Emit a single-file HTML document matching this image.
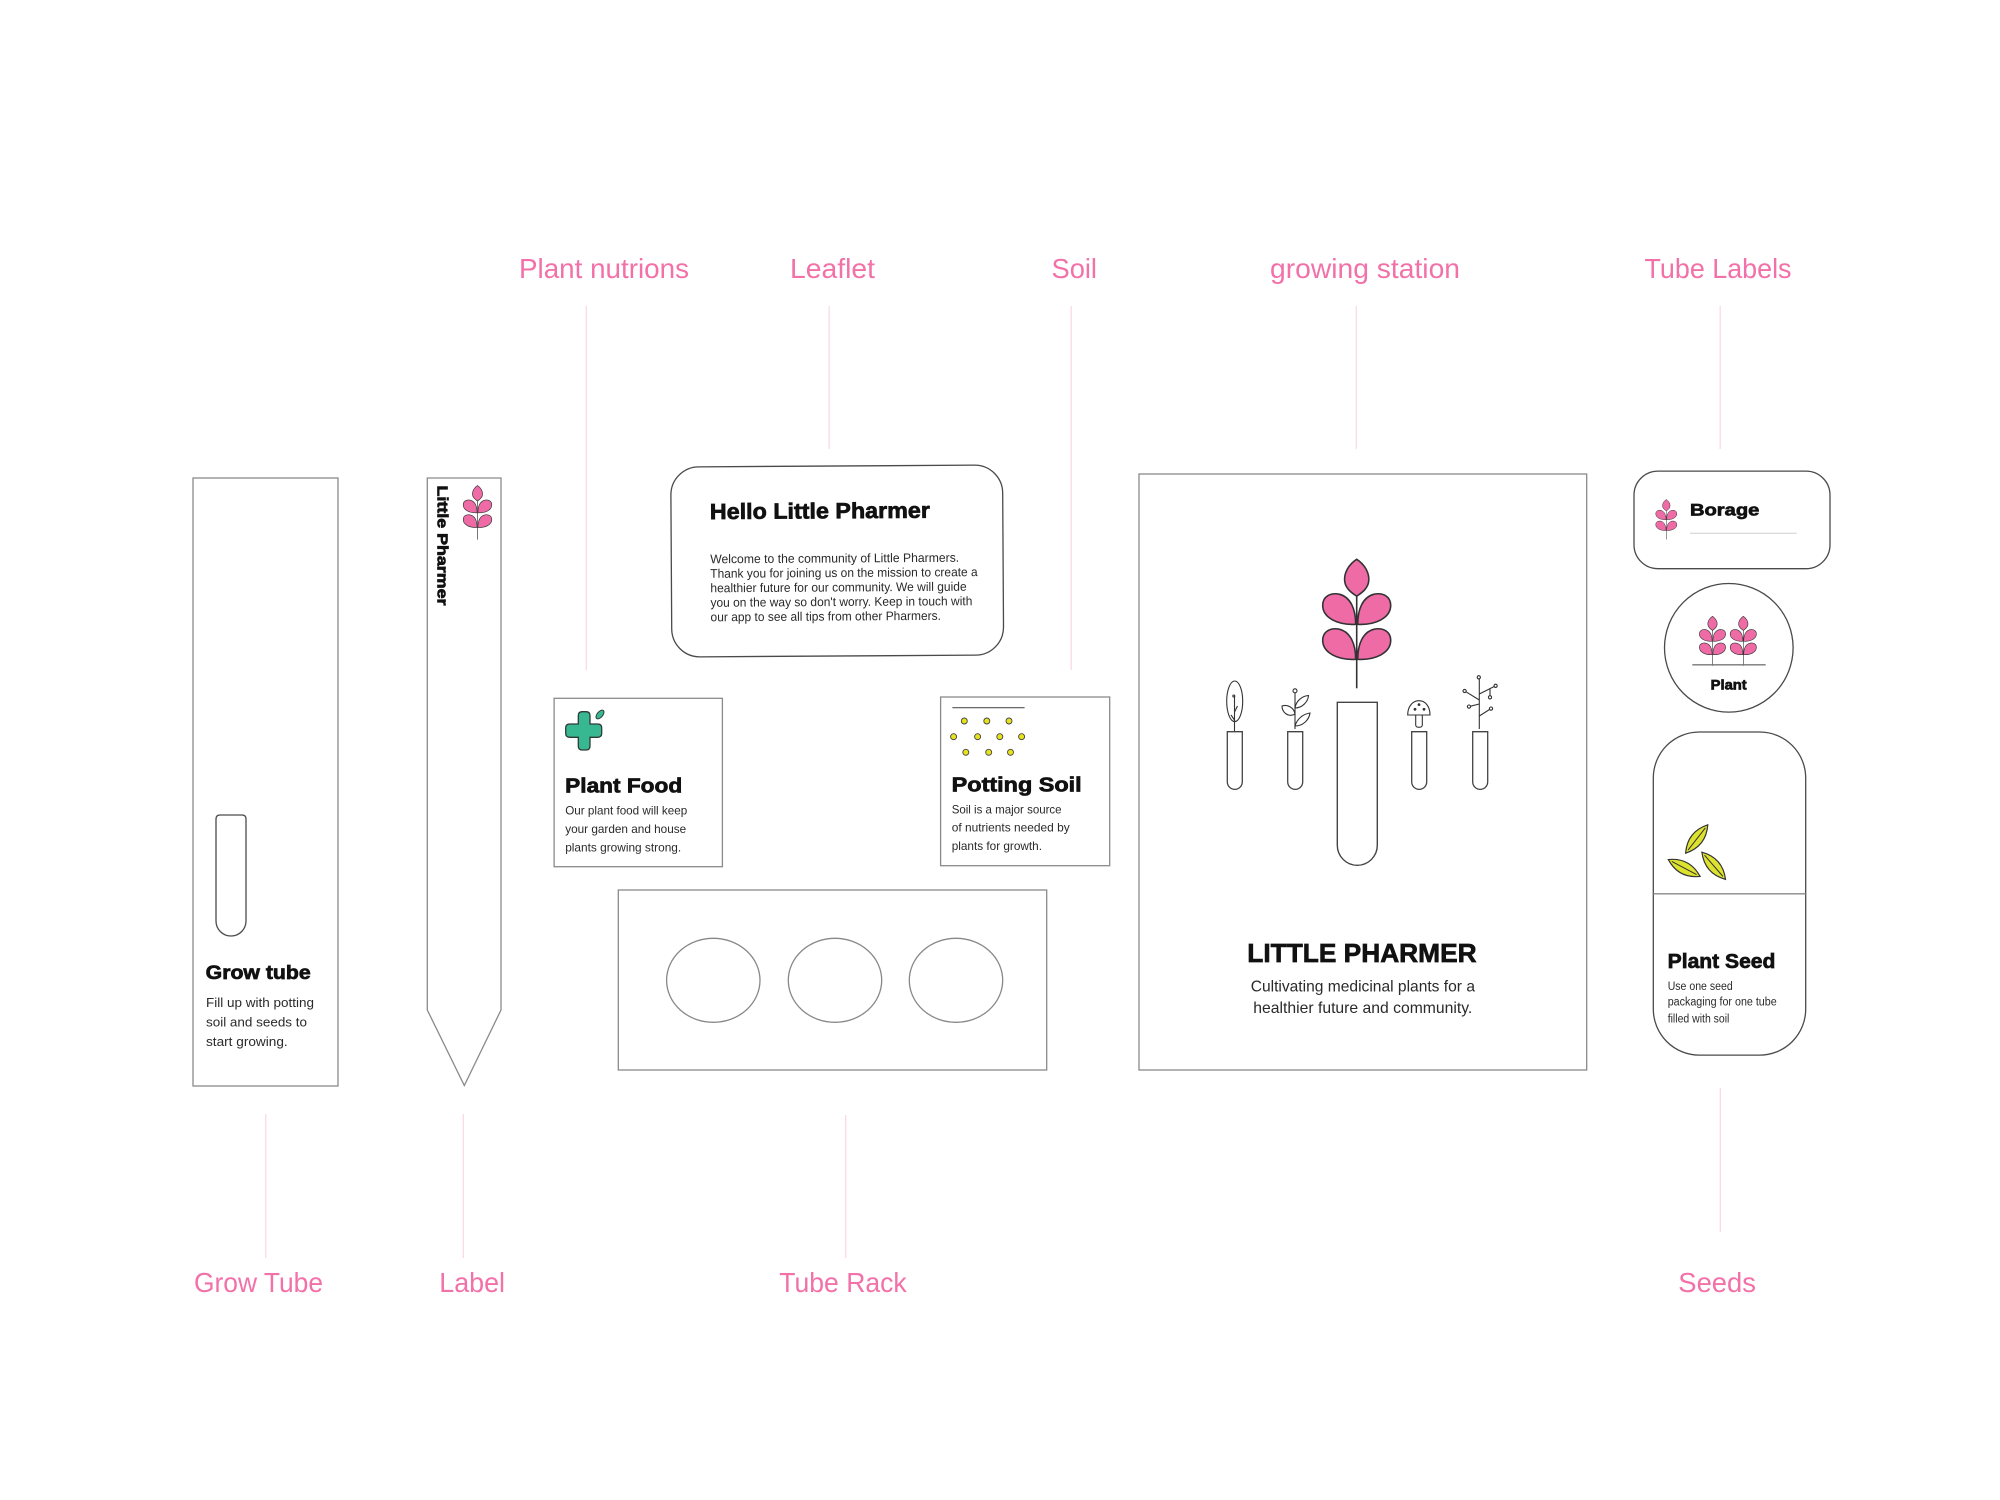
<!DOCTYPE html>
<html><head><meta charset="utf-8"><style>
html,body{margin:0;padding:0;background:#fff;}
svg{display:block;}
text{font-family:"Liberation Sans",Arial,sans-serif;}
.lbl{font-size:28px;fill:#f271a8;}
.h{font-weight:700;fill:#111;stroke:#111;stroke-width:0.7px;}
.b{fill:#2a2a2a;}
.ln{stroke:#fadbe6;stroke-width:1.3;}
.bx{fill:#fff;stroke:#8a8a8a;stroke-width:1.3;}
.dk{fill:#fff;stroke:#4a4a4a;stroke-width:1.3;}
.pk{fill:#ee6ba6;stroke:#333;stroke-width:1.6;}
.st{stroke:#333;stroke-width:1.6;fill:none;}
.ic{fill:none;stroke:#333;stroke-width:1.1;}
</style></head><body>
<svg width="2000" height="1500" viewBox="0 0 2000 1500" xmlns="http://www.w3.org/2000/svg">
<defs>
<g id="sprig">
  <line class="st" x1="0" y1="36" x2="0" y2="129"/>
  <path class="pk" d="M0,0 C8,5 13,14 12,22 C11,30 4,34 0,37 C-4,34 -11,30 -12,22 C-13,14 -8,5 0,0 Z"/>
  <path class="pk" d="M-1,65 C-18,66 -34,59 -34,46 C-34,37 -26,33 -17,35 C-6,38 -1,50 -1,65 Z"/>
  <path class="pk" d="M1,65 C18,66 34,59 34,46 C34,37 26,33 17,35 C6,38 1,50 1,65 Z"/>
  <path class="pk" d="M-1,100 C-18,101 -34,94 -34,81 C-34,72 -26,68 -17,70 C-6,73 -1,85 -1,100 Z"/>
  <path class="pk" d="M1,100 C18,101 34,94 34,81 C34,72 26,68 17,70 C6,73 1,85 1,100 Z"/>
</g>
<g id="seed">
  <path d="M-18,0 Q0,-12 18,0 Q0,12 -18,0 Z" fill="#dde22f" stroke="#333" stroke-width="1.2"/>
  <line x1="-14" y1="0" x2="14" y2="0" stroke="#333" stroke-width="1"/>
</g>
</defs>

<rect width="2000" height="1500" fill="#fff"/>

<!-- Top labels -->
<text class="lbl" x="519" y="278" textLength="170" lengthAdjust="spacingAndGlyphs">Plant nutrions</text>
<text class="lbl" x="790" y="278" textLength="85" lengthAdjust="spacingAndGlyphs">Leaflet</text>
<text class="lbl" x="1051.5" y="278" textLength="45.5" lengthAdjust="spacingAndGlyphs">Soil</text>
<text class="lbl" x="1270" y="278" textLength="190" lengthAdjust="spacingAndGlyphs">growing station</text>
<text class="lbl" x="1644.5" y="278" textLength="147" lengthAdjust="spacingAndGlyphs">Tube Labels</text>

<!-- Bottom labels -->
<text class="lbl" x="194" y="1292" textLength="129" lengthAdjust="spacingAndGlyphs">Grow Tube</text>
<text class="lbl" x="439.3" y="1292" textLength="65.7" lengthAdjust="spacingAndGlyphs">Label</text>
<text class="lbl" x="779.3" y="1292" textLength="127.4" lengthAdjust="spacingAndGlyphs">Tube Rack</text>
<text class="lbl" x="1678.3" y="1292" textLength="77.7" lengthAdjust="spacingAndGlyphs">Seeds</text>

<!-- Connector lines -->
<line class="ln" x1="586.3" y1="306" x2="586.3" y2="670"/>
<line class="ln" x1="829.2" y1="306" x2="829.2" y2="449"/>
<line class="ln" x1="1071.2" y1="306" x2="1071.2" y2="670"/>
<line class="ln" x1="1356.3" y1="306" x2="1356.3" y2="449"/>
<line class="ln" x1="1720.2" y1="306" x2="1720.2" y2="449"/>
<line class="ln" x1="265.7" y1="1114" x2="265.7" y2="1258"/>
<line class="ln" x1="463.3" y1="1114" x2="463.3" y2="1258"/>
<line class="ln" x1="845.7" y1="1115" x2="845.7" y2="1258"/>
<line class="ln" x1="1720.3" y1="1088" x2="1720.3" y2="1232"/>

<!-- Grow tube -->
<rect class="bx" x="193" y="478" width="145" height="608"/>
<path class="dk" d="M216,819 Q216,815 220,815 L242,815 Q246,815 246,819 L246,921 A15,15 0 0 1 216,921 Z" stroke="#555" stroke-width="1.2"/>
<text class="h" x="205.7" y="979" font-size="19" textLength="105" lengthAdjust="spacingAndGlyphs">Grow tube</text>
<text class="b" x="206" y="1007" font-size="13" textLength="108" lengthAdjust="spacingAndGlyphs">Fill up with potting</text>
<text class="b" x="206" y="1026.5" font-size="13" textLength="101" lengthAdjust="spacingAndGlyphs">soil and seeds to</text>
<text class="b" x="206" y="1046" font-size="13" textLength="81.7" lengthAdjust="spacingAndGlyphs">start growing.</text>

<!-- Label stake -->
<path class="bx" d="M427.3,478 L501,478 L501,1010 L464.3,1085.5 L427.3,1010 Z" stroke="#666"/>
<text class="h" transform="translate(437.5,485.5) rotate(90)" x="0" y="0" font-size="15" textLength="120" lengthAdjust="spacingAndGlyphs" stroke-width="0.5">Little Pharmer</text>
<use href="#sprig" transform="translate(477.5,485.5) scale(0.42)"/>

<!-- Leaflet -->
<g transform="rotate(-0.35 837 561)">
<rect class="dk" x="671.3" y="466" width="331.8" height="190" rx="28" ry="28" stroke="#555"/>
<text class="h" x="710.2" y="518.3" font-size="22" textLength="220" lengthAdjust="spacingAndGlyphs">Hello Little Pharmer</text>
<text class="b" x="710.2" y="562.5" font-size="12.5" textLength="249" lengthAdjust="spacingAndGlyphs">Welcome to the community of Little Pharmers.</text>
<text class="b" x="710.2" y="577" font-size="12.5" textLength="267.4" lengthAdjust="spacingAndGlyphs">Thank you for joining us on the mission to create a</text>
<text class="b" x="710.2" y="591.5" font-size="12.5" textLength="256.3" lengthAdjust="spacingAndGlyphs">healthier future for our community. We will guide</text>
<text class="b" x="710.2" y="606" font-size="12.5" textLength="261.9" lengthAdjust="spacingAndGlyphs">you on the way so don't worry. Keep in touch with</text>
<text class="b" x="710.2" y="620.5" font-size="12.5" textLength="230.4" lengthAdjust="spacingAndGlyphs">our app to see all tips from other Pharmers.</text>
</g>

<!-- Plant Food -->
<rect class="bx" x="554.1" y="698.3" width="168.3" height="168.4"/>
<path d="M578.3,715.7 Q578.3,711.7 582.3,711.7 L586,711.7 Q590,711.7 590,715.7 L590,724 L597.7,724 Q601.7,724 601.7,728 L601.7,733.3 Q601.7,737.3 597.7,737.3 L590,737.3 L590,746 Q590,750 586,750 L582.3,750 Q578.3,750 578.3,746 L578.3,737.3 L569.7,737.3 Q565.7,737.3 565.7,733.3 L565.7,728 Q565.7,724 569.7,724 L578.3,724 Z" fill="#37b891" stroke="#2f3a36" stroke-width="1.3"/>
<ellipse cx="600" cy="714.5" rx="2.8" ry="5.2" transform="rotate(40 600 714.5)" fill="#37b891" stroke="#2f3a36" stroke-width="1"/>
<text class="h" x="565.2" y="792.7" font-size="20" textLength="117" lengthAdjust="spacingAndGlyphs">Plant Food</text>
<text class="b" x="565.2" y="814.7" font-size="12" textLength="122" lengthAdjust="spacingAndGlyphs">Our plant food will keep</text>
<text class="b" x="565.2" y="833" font-size="12" textLength="121" lengthAdjust="spacingAndGlyphs">your garden and house</text>
<text class="b" x="565.2" y="851.3" font-size="12" textLength="116" lengthAdjust="spacingAndGlyphs">plants growing strong.</text>

<!-- Potting Soil -->
<rect class="bx" x="940.6" y="697" width="169.1" height="168.7"/>
<line x1="952.4" y1="707.7" x2="1024.6" y2="707.7" stroke="#555" stroke-width="1.2"/>
<g fill="#e6e21c" stroke="#444" stroke-width="0.9">
<circle cx="964.3" cy="721" r="3"/><circle cx="986.8" cy="721" r="3"/><circle cx="1009" cy="721" r="3"/>
<circle cx="953.6" cy="736.7" r="3"/><circle cx="977.6" cy="736.7" r="3"/><circle cx="999.8" cy="736.7" r="3"/><circle cx="1021.6" cy="736.7" r="3"/>
<circle cx="965.8" cy="752.3" r="3"/><circle cx="988.7" cy="752.3" r="3"/><circle cx="1010.5" cy="752.3" r="3"/>
</g>
<text class="h" x="951.7" y="791.7" font-size="20" textLength="130" lengthAdjust="spacingAndGlyphs">Potting Soil</text>
<text class="b" x="951.7" y="813.3" font-size="12" textLength="109.9" lengthAdjust="spacingAndGlyphs">Soil is a major source</text>
<text class="b" x="951.7" y="831.7" font-size="12" textLength="118" lengthAdjust="spacingAndGlyphs">of nutrients needed by</text>
<text class="b" x="951.7" y="850" font-size="12" textLength="90.3" lengthAdjust="spacingAndGlyphs">plants for growth.</text>

<!-- Tube rack -->
<rect class="bx" x="618.3" y="890" width="428.4" height="180"/>
<g fill="none" stroke="#888" stroke-width="1.3">
<ellipse cx="713.3" cy="980.3" rx="46.7" ry="42"/>
<ellipse cx="835" cy="980.3" rx="46.7" ry="42"/>
<ellipse cx="956" cy="980.3" rx="46.7" ry="42"/>
</g>

<!-- Growing station -->
<rect class="bx" x="1139" y="474" width="447.7" height="596"/>
<use href="#sprig" transform="translate(1356.7,559.3)"/>
<path d="M1337.3,702.3 L1377.3,702.3 L1377.3,845.3 A20,20 0 0 1 1337.3,845.3 Z" fill="none" stroke="#444" stroke-width="1.4"/>
<g fill="none" stroke="#444" stroke-width="1.3">
<path d="M1227.3,731.7 L1242.3,731.7 L1242.3,781.9 A7.5,7.5 0 0 1 1227.3,781.9 Z"/>
<path d="M1287.7,731.7 L1302.7,731.7 L1302.7,781.9 A7.5,7.5 0 0 1 1287.7,781.9 Z"/>
<path d="M1411.7,731.7 L1426.7,731.7 L1426.7,781.9 A7.5,7.5 0 0 1 1411.7,781.9 Z"/>
<path d="M1472.7,731.7 L1487.7,731.7 L1487.7,781.9 A7.5,7.5 0 0 1 1472.7,781.9 Z"/>
</g>
<!-- small icons -->
<g class="ic">
<ellipse cx="1234.7" cy="701.3" rx="8" ry="20.3"/>
<line x1="1234.5" y1="696" x2="1234.5" y2="731"/>
<line x1="1234.5" y1="712" x2="1237.5" y2="706"/>
<line x1="1234.5" y1="720" x2="1231" y2="715"/>
<circle cx="1233.8" cy="696" r="1"/>

<circle cx="1295" cy="690.8" r="2"/>
<line x1="1295" y1="693" x2="1295" y2="729"/>
<path d="M1295,714 C1288,718 1282,712 1282,706 C1288,704 1294,708 1295,714 Z"/>
<path d="M1295,708 C1296,701 1302,696 1308.5,695.5 C1308,702 1302,708 1295,708 Z"/>
<path d="M1295,726 C1297,719 1303,714 1310,713 C1309,720 1303,726 1295,726 Z"/>

<path d="M1407.7,715 C1407.7,706 1413,700.7 1419,700.7 C1425,700.7 1430,706 1430,715 Z"/>
<path d="M1415.7,715 L1415.7,725 Q1415.7,727.3 1419,727.3 Q1422.3,727.3 1422.3,725 L1422.3,715"/>

<line x1="1479.3" y1="679" x2="1479.3" y2="729"/>
<circle cx="1478.8" cy="677.3" r="1.6"/>
<line x1="1479.3" y1="700" x2="1466" y2="691.8"/>
<circle cx="1464.6" cy="691" r="1.6"/>
<line x1="1479.3" y1="694" x2="1494" y2="686.6"/>
<circle cx="1495.6" cy="685.8" r="1.6"/>
<line x1="1490" y1="689" x2="1490" y2="695.5"/>
<circle cx="1490" cy="697.3" r="1.6"/>
<line x1="1479.3" y1="704" x2="1470.5" y2="706.2"/>
<circle cx="1469" cy="706.6" r="1.6"/>
<line x1="1479.3" y1="716" x2="1489.5" y2="709.5"/>
<circle cx="1491" cy="708.6" r="1.6"/>
</g>
<g fill="#333">
<circle cx="1415" cy="709.3" r="1.4"/><circle cx="1419" cy="704.6" r="1.4"/><circle cx="1424" cy="709.3" r="1.4"/>
</g>
<text class="h" x="1247.3" y="962.2" font-size="26" textLength="229.3" lengthAdjust="spacingAndGlyphs" stroke-width="0.9">LITTLE PHARMER</text>
<text class="b" x="1250.7" y="991.5" font-size="16" textLength="224.3" lengthAdjust="spacingAndGlyphs">Cultivating medicinal plants for a</text>
<text class="b" x="1253.3" y="1013" font-size="16" textLength="219" lengthAdjust="spacingAndGlyphs">healthier future and community.</text>

<!-- Tube labels: Borage -->
<rect class="dk" x="1634" y="471.1" width="196" height="97.6" rx="24" ry="24" stroke="#555"/>
<use href="#sprig" transform="translate(1666.3,499.5) scale(0.31)"/>
<text class="h" x="1690" y="515.4" font-size="17" textLength="69.3" lengthAdjust="spacingAndGlyphs">Borage</text>
<line x1="1690" y1="533.2" x2="1796.7" y2="533.2" stroke="#cfcfcf" stroke-width="1"/>

<!-- Plant circle -->
<circle class="dk" cx="1728.8" cy="647.8" r="64.3" stroke="#444"/>
<use href="#sprig" transform="translate(1712.5,616.2) scale(0.385)"/>
<use href="#sprig" transform="translate(1743.3,616.2) scale(0.385)"/>
<line x1="1692.3" y1="664.8" x2="1765.7" y2="664.8" stroke="#777" stroke-width="1.3"/>
<text class="h" x="1710.7" y="689.3" font-size="14" textLength="36" lengthAdjust="spacingAndGlyphs" stroke-width="0.5">Plant</text>

<!-- Seed pill -->
<rect class="dk" x="1653.3" y="732" width="152.4" height="323.1" rx="46" ry="46" stroke="#555"/>
<line x1="1653.3" y1="893.8" x2="1805.7" y2="893.8" stroke="#888" stroke-width="1.3"/>
<use href="#seed" transform="translate(1696.7,839) rotate(-52)"/>
<use href="#seed" transform="translate(1684.2,868) rotate(28)"/>
<use href="#seed" transform="translate(1713.7,865.8) rotate(49)"/>
<text class="h" x="1667.7" y="968.1" font-size="20" textLength="107.7" lengthAdjust="spacingAndGlyphs">Plant Seed</text>
<text class="b" x="1667.7" y="990" font-size="11.5" textLength="65" lengthAdjust="spacingAndGlyphs">Use one seed</text>
<text class="b" x="1667.7" y="1005.7" font-size="11.5" textLength="109" lengthAdjust="spacingAndGlyphs">packaging for one tube</text>
<text class="b" x="1667.7" y="1022.3" font-size="11.5" textLength="61.7" lengthAdjust="spacingAndGlyphs">filled with soil</text>
</svg>
</body></html>
